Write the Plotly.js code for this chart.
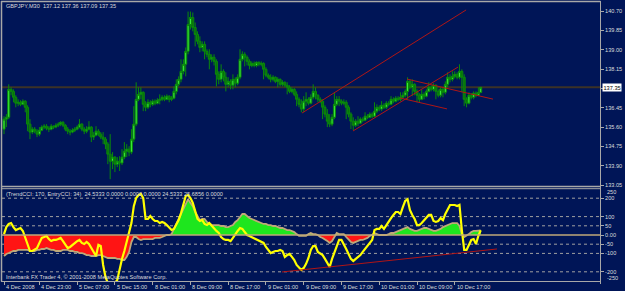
<!DOCTYPE html>
<html><head><meta charset="utf-8">
<script src="https://cdn.plot.ly/plotly-3.0.1.min.js"></script>
<style>html,body{margin:0;padding:0;background:#001557;}#chart{width:625px;height:291px;}</style>
</head><body><div id="chart"></div>
<script>
// ---- GBPJPY M30 candles (bar index = position) ----
const openP = [135.51,135.95,136.03,137.26,137.17,136.91,136.65,136.69,136.60,136.74,
136.47,135.73,135.38,135.51,135.42,135.29,135.46,135.60,135.64,135.55,
135.51,135.64,135.60,135.68,135.73,135.81,135.68,135.51,135.42,135.38,
135.46,135.51,135.60,135.73,135.51,135.42,135.51,135.60,135.16,135.24,
135.42,135.29,135.16,135.07,134.85,134.41,134.10,134.28,133.97,134.10,
134.02,134.28,134.54,134.63,134.50,135.07,135.73,136.82,137.04,137.13,
136.60,136.47,136.69,136.60,136.74,136.65,136.78,136.82,136.91,136.82,
136.96,136.82,136.87,137.17,137.48,137.70,138.05,138.36,138.93,140.11,
140.42,139.98,139.67,139.37,139.10,139.24,138.93,138.80,138.58,138.67,
138.49,137.92,137.70,138.05,137.79,137.48,137.61,137.44,137.70,137.53,
137.79,138.58,138.80,138.67,138.49,138.31,138.40,138.31,138.45,138.36,
138.40,138.14,137.88,137.79,137.70,137.79,137.61,137.70,137.48,137.57,
137.44,137.35,137.17,137.26,137.04,136.82,136.60,136.39,136.74,136.82,
136.65,136.91,137.17,137.00,136.82,136.74,136.47,136.17,135.86,135.73,
136.03,136.60,136.82,136.74,136.65,136.69,136.47,136.17,135.86,135.68,
135.86,135.77,135.95,135.90,136.08,136.03,136.17,136.08,136.30,136.47,
136.39,136.56,136.47,136.65,136.60,136.82,136.74,136.87,136.82,136.91,
137.00,137.17,137.61,137.35,137.48,137.17,137.00,136.82,137.04,136.96,
137.17,137.35,137.26,137.44,137.17,137.00,137.26,137.13,137.48,137.79,
137.70,137.83,137.92,137.79,138.05,137.79,136.82,136.65,137.00,136.91,
137.09,137.00,137.12];
const highP = [136.08,136.17,137.48,137.35,137.26,137.00,136.82,136.78,136.82,136.78,
136.56,135.95,135.60,135.60,135.51,135.60,135.68,135.73,135.73,135.64,
135.73,135.68,135.77,135.81,135.86,135.86,135.73,135.60,135.51,135.55,
135.60,135.68,135.95,135.77,135.60,135.64,135.86,135.64,135.38,135.64,
135.51,135.38,135.38,135.16,134.94,135.29,134.50,134.32,134.28,134.32,
134.63,134.94,134.85,134.76,135.51,136.52,137.57,137.35,137.35,137.17,
136.74,136.82,136.78,136.82,136.82,136.87,137.04,137.00,137.00,137.04,
137.00,136.96,137.39,137.70,137.83,138.58,138.58,139.10,140.68,140.68,
140.64,140.20,139.81,139.59,139.37,139.37,139.02,139.02,138.80,138.80,
138.58,138.05,138.36,138.14,138.01,137.79,137.70,137.92,137.79,137.92,
139.02,138.93,138.89,138.75,138.58,138.49,138.49,138.49,138.49,138.49,
138.45,138.23,137.96,137.92,137.88,137.83,137.79,137.74,137.66,137.61,
137.57,137.44,137.35,137.31,137.17,136.91,136.82,136.96,137.13,136.91,
137.04,137.48,137.35,137.04,136.91,136.82,136.56,136.39,136.17,136.17,
137.13,136.96,136.96,136.82,136.82,136.78,136.56,136.25,136.03,135.95,
136.08,136.03,136.03,136.25,136.17,136.25,136.25,136.69,136.60,136.56,
136.74,136.65,136.74,136.74,136.96,136.91,136.96,136.96,137.13,137.13,
137.26,137.79,137.70,137.70,137.53,137.26,137.09,137.26,137.13,137.26,
137.57,137.44,137.53,137.48,137.26,137.35,137.35,137.61,138.01,137.92,
138.05,138.05,138.01,138.36,138.14,137.92,136.91,137.13,137.09,137.17,
137.17,137.35,137.36];
const lowP = [135.29,135.60,135.95,137.00,136.69,136.47,136.52,136.52,136.56,136.25,
135.42,135.07,135.29,135.33,135.16,135.20,135.42,135.51,135.46,135.38,
135.46,135.51,135.55,135.60,135.64,135.60,135.42,135.29,135.24,135.33,
135.38,135.46,135.55,135.42,135.29,135.33,135.46,134.94,135.03,135.20,
135.20,135.07,134.85,134.63,133.97,133.31,133.75,133.62,133.84,133.67,
133.93,134.19,134.28,134.32,134.41,134.94,135.64,136.74,136.82,136.30,
136.30,136.39,136.47,136.52,136.56,136.60,136.60,136.74,136.74,136.78,
136.69,136.74,136.82,137.04,137.39,137.57,137.92,137.83,138.80,139.89,
139.81,139.15,139.24,138.89,138.93,138.58,138.67,138.14,138.45,138.31,
137.39,137.48,137.57,137.61,137.17,137.35,137.26,137.26,137.35,137.44,
137.70,138.49,138.27,138.31,138.14,138.23,138.23,138.23,138.27,138.27,
137.70,137.79,137.70,137.57,137.61,137.53,137.35,137.39,137.39,137.35,
137.04,137.09,137.09,136.96,136.52,136.47,136.25,136.25,136.52,136.56,
136.60,136.82,136.82,136.69,136.65,135.95,136.03,135.60,135.60,135.64,
135.95,136.52,136.52,136.56,136.56,135.95,136.03,135.51,135.46,135.60,
135.64,135.73,135.81,135.86,135.95,135.99,135.99,136.03,136.21,136.30,
136.30,136.39,136.39,136.52,136.56,136.65,136.69,136.74,136.74,136.82,
136.91,136.82,137.26,136.96,137.00,136.69,136.69,136.78,136.82,136.91,
137.13,137.17,137.17,136.82,136.91,136.91,136.91,137.04,137.35,137.57,
137.61,137.74,137.70,137.70,137.13,136.52,136.47,136.60,136.82,136.82,
136.91,136.96,137.09];
const closeP = [135.95,136.03,137.26,137.17,136.91,136.65,136.69,136.60,136.74,136.47,
135.73,135.38,135.51,135.42,135.29,135.46,135.60,135.64,135.55,135.51,
135.64,135.60,135.68,135.73,135.81,135.68,135.51,135.42,135.38,135.46,
135.51,135.60,135.73,135.51,135.42,135.51,135.60,135.16,135.24,135.42,
135.29,135.16,135.07,134.85,134.41,134.10,134.28,133.97,134.10,134.02,
134.28,134.54,134.63,134.50,135.07,135.73,136.82,137.04,137.13,136.60,
136.47,136.69,136.60,136.74,136.65,136.78,136.82,136.91,136.82,136.96,
136.82,136.87,137.17,137.48,137.70,138.05,138.36,138.93,140.11,140.42,
139.98,139.67,139.37,139.10,139.24,138.93,138.80,138.58,138.67,138.49,
137.92,137.70,138.05,137.79,137.48,137.61,137.44,137.70,137.53,137.79,
138.58,138.80,138.67,138.49,138.31,138.40,138.31,138.45,138.36,138.40,
138.14,137.88,137.79,137.70,137.79,137.61,137.70,137.48,137.57,137.44,
137.35,137.17,137.26,137.04,136.82,136.60,136.39,136.74,136.82,136.65,
136.91,137.17,137.00,136.82,136.74,136.47,136.17,135.86,135.73,136.03,
136.60,136.82,136.74,136.65,136.69,136.47,136.17,135.86,135.68,135.86,
135.77,135.95,135.90,136.08,136.03,136.17,136.08,136.30,136.47,136.39,
136.56,136.47,136.65,136.60,136.82,136.74,136.87,136.82,136.91,137.00,
137.17,137.61,137.35,137.48,137.17,137.00,136.82,137.04,136.96,137.17,
137.35,137.26,137.44,137.17,137.00,137.26,137.13,137.48,137.79,137.70,
137.83,137.92,137.79,138.05,137.79,136.82,136.65,137.00,136.91,137.09,
137.00,137.12,137.35];

// ---- TrendCCI(170) histogram/line and EntryCCI(34) ----
const trendCCI = [-114,-103,-98,-92,-87,-87,-81,-81,-81,-81,
-81,-87,-87,-87,-81,-81,-76,-76,-71,-76,
-81,-81,-87,-87,-87,-81,-81,-81,-87,-87,
-92,-92,-98,-98,-103,-109,-109,-114,-114,-114,
-109,-109,-114,-119,-125,-125,-125,-125,-130,-130,
-136,-136,-119,-92,-38,-11,-11,-22,-27,-22,
-22,-22,-22,-22,-16,-16,-16,-11,-5,0,
0,5,33,60,92,119,147,168,195,174,
157,125,103,81,87,87,71,60,54,54,
54,54,49,49,43,43,49,54,71,81,
98,114,114,103,92,87,81,76,71,65,
60,60,54,54,49,49,43,38,38,33,
27,27,22,16,5,-5,-5,-5,-5,5,
11,5,5,0,-11,-16,-27,-33,-43,-33,
-11,11,5,5,5,-11,-27,-38,-43,-38,
-33,-27,-27,-22,-16,-5,0,11,5,0,
0,0,0,5,11,11,16,22,27,33,
38,43,33,27,22,22,27,33,38,38,
33,27,22,22,27,33,43,49,54,60,
65,65,65,49,5,-11,-5,5,16,22,
22,22,24.53];
const entryCCI = [5,43,60,65,43,27,33,38,22,-16,
-60,-87,-87,-81,-71,-43,-16,-11,-5,-22,
-33,-27,-27,-22,-16,-33,-49,-71,-65,-54,
-43,-33,-27,-43,-49,-38,-49,-71,-92,-114,
-54,-60,-163,-228,-261,-261,-261,-261,-244,-179,
-130,-87,-38,5,65,157,201,217,223,201,
87,87,103,87,76,76,65,71,65,54,
43,27,33,54,81,119,163,212,217,201,
174,130,87,76,81,60,54,65,49,33,
22,11,-11,-22,-27,-27,-33,-16,5,22,
38,33,16,0,-5,-11,-16,-22,-27,-33,
-43,-65,-81,-98,-92,-87,-87,-81,-87,-119,
-109,-103,-119,-136,-163,-179,-190,-179,-157,-125,
-81,-60,-60,-92,-103,-109,-130,-152,-174,-130,
-92,-60,-27,-27,-49,-76,-103,-130,-141,-130,
-119,-109,-92,-76,-60,-43,-27,27,33,33,
49,33,54,76,92,109,125,125,114,152,
185,195,136,109,87,54,54,65,81,92,
109,109,76,71,76,92,81,114,141,163,
163,163,157,163,27,-81,-81,-49,-27,-22,
-49,-5,25.69];

// ---- axis text ----
const timeLabels = ["4 Dec 2008","4 Dec 23:00","5 Dec 07:00","5 Dec 15:00","8 Dec 01:00","8 Dec 09:00","8 Dec 17:00","9 Dec 01:00","9 Dec 09:00","9 Dec 17:00","10 Dec 01:00","10 Dec 09:00","10 Dec 17:00"];
const timeLabelBars = [0,15,31,47,63,79,95,111,127,143,159,175,191];
const priceTicks = [140.70,139.85,139.00,138.15,137.30,136.45,135.60,134.75,133.90,133.05];
const priceTickText = ["140.70","139.85","139.00","138.15","","136.45","135.60","134.75","133.90","133.05"];
const cciTicks = [200,100,50,0,-50,-100,-200];
const cciTickText = ["200","100","50","0.00","-50","-100","-200"];
const cciEdgeLabels = ["250","-250"];
const cciLevels = [200,100,50,-50,-100,-200];
const bidPrice = 137.35;
const headerText = "GBPJPY,M30\u00a0\u00a0137.12 137.36 137.09 137.35";
const cciHeader = "(TrendCCI: 170, EntryCCI: 34)\u00a0\u00a024.5333 0.0000 0.0000 0.0000 24.5333 25.6856 0.0000";
const copyright = "Interbank FX Trader 4, \u00a9 2001-2008 MetaQuotes Software Corp.";
// trend lines drawn on chart: [bar0, price0, bar1, price1]
const priceTrendLines = [[126.3,136.22,195.8,140.75],[147.9,135.43,192.4,138.24],[170.8,137.71,207.2,136.83],[167.8,136.88,187.7,136.40]];
const cciTrendLine = [117.8,-201,208.9,-76];

// ---- build ----
const bars = closeP.map((_, i) => i);
const NAVY = '#001557', GRAY = '#a8a8a8', TXT = '#dcdcdc';
const FONT = 'Liberation Sans, Arial, sans-serif';
const FS = 5.6;
const PX = x => (x - 2) / 598;
const PY = y => (281 - y) / 279;
const barPx = 2.36;
const r0 = (2 - 4) / barPx, r1 = r0 + 598 / barPx;

const traces = [
  {type:'candlestick', x:bars, open:openP, high:highP, low:lowP, close:closeP,
   xaxis:'x', yaxis:'y', whiskerwidth:0, hoverinfo:'skip',
   increasing:{line:{color:'#0a8a0a', width:1}, fillcolor:'#3cf03c'},
   decreasing:{line:{color:'#0a8a0a', width:1}, fillcolor:'#0a700a'}},
  {type:'scatter', mode:'lines', x:bars, y:trendCCI.map(v => v > 0 ? v : 0), xaxis:'x2', yaxis:'y2',
   fill:'tozeroy', fillcolor:'#1ee61e', line:{width:0}, hoverinfo:'skip'},
  {type:'scatter', mode:'lines', x:bars, y:trendCCI.map(v => v < 0 ? v : 0), xaxis:'x2', yaxis:'y2',
   fill:'tozeroy', fillcolor:'#ff1414', line:{width:0}, hoverinfo:'skip'},
  {type:'scatter', mode:'lines', x:bars, y:trendCCI, xaxis:'x2', yaxis:'y2',
   line:{color:'#bfa978', width:1.8}, hoverinfo:'skip'},
  {type:'scatter', mode:'lines', x:bars, y:entryCCI, xaxis:'x2', yaxis:'y2',
   line:{color:'#ffff00', width:2.2}, hoverinfo:'skip'}
];

const shapes = [];
shapes.push({type:'line', xref:'paper', yref:'y', x0:0, x1:1, y0:bidPrice, y1:bidPrice, line:{color:'#3b3226', width:2}, layer:'below'});
cciLevels.forEach(v => shapes.push({type:'line', xref:'paper', yref:'y2', x0:0, x1:1, y0:v, y1:v, line:{color:'#a0a0a0', width:1, dash:'dot'}, layer:'below'}));
shapes.push({type:'line', xref:'paper', yref:'y2', x0:0, x1:1, y0:0, y1:0, line:{color:'#bfa978', width:1.5}, layer:'above'});
priceTrendLines.forEach(t => shapes.push({type:'line', xref:'x', yref:'y', x0:t[0], y0:t[1], x1:t[2], y1:t[3], line:{color:'#b01515', width:1}}));
shapes.push({type:'line', xref:'x2', yref:'y2', x0:cciTrendLine[0], y0:cciTrendLine[1], x1:cciTrendLine[2], y1:cciTrendLine[3], line:{color:'#b01515', width:1}});
const frame = (x0,y0,x1,y1,w) => shapes.push({type:'line', xref:'paper', yref:'paper', x0:PX(x0), y0:PY(y0), x1:PX(x1), y1:PY(y1), line:{color:GRAY, width:w||1}});
frame(1,1.5,600.5,1.5,1.5);
frame(1.5,1,1.5,281.5,1.5);
frame(600.5,1,600.5,284,1);
frame(1,186.5,600.5,186.5,1.5);
frame(1,188.7,600.5,188.7,1);
frame(1,281.5,600.5,281.5,1);

const ann = [];
const txt = (text, x, y, xref, yref, extra) => ann.push(Object.assign({text, x, y, xref, yref, xanchor:'left', yanchor:'middle', showarrow:false, font:{family:FONT, size:FS, color:TXT}}, extra||{}));
txt(headerText, PX(4), PY(6), 'paper', 'paper');
txt(cciHeader, PX(4), PY(193.5), 'paper', 'paper');
txt(copyright, PX(4), PY(277), 'paper', 'paper');
timeLabels.forEach((t, k) => txt(t, timeLabelBars[k], PY(286.5), 'x2', 'paper'));
txt(cciEdgeLabels[0], PX(604.5), PY(192), 'paper', 'paper');
txt(cciEdgeLabels[1], PX(604.5), PY(277.5), 'paper', 'paper');
txt(bidPrice.toFixed(2), PX(601.5), bidPrice, 'paper', 'y', {bgcolor:'#ffffff', borderpad:0.5, font:{family:FONT, size:FS, color:'#000000'}});

const tickFont = {family:FONT, size:FS, color:TXT};
const layout = {
  width:625, height:291, margin:{l:2, r:25, t:2, b:10, pad:0},
  paper_bgcolor:NAVY, plot_bgcolor:NAVY, showlegend:false, hovermode:false, dragmode:false,
  boxgap:0.15, boxgroupgap:0,
  xaxis:{domain:[0,1], anchor:'y', range:[r0,r1], showticklabels:false, ticks:'', showgrid:false, zeroline:false, showline:false, rangeslider:{visible:false}, fixedrange:true},
  xaxis2:{domain:[0,1], anchor:'y2', range:[r0,r1], tickmode:'array', tickvals:timeLabelBars, ticks:'outside', ticklen:3, tickcolor:GRAY, showticklabels:false, showgrid:false, zeroline:false, showline:false, fixedrange:true},
  yaxis:{domain:[PY(186),1], anchor:'x', side:'right', range:[133.01,141.10], tickmode:'array', tickvals:priceTicks, ticktext:priceTickText, ticks:'outside', ticklen:3, tickcolor:GRAY, tickfont:tickFont, showgrid:false, zeroline:false, showline:false, fixedrange:true},
  yaxis2:{domain:[0,PY(189)], anchor:'x2', side:'right', range:[-250,250], tickmode:'array', tickvals:cciTicks, ticktext:cciTickText, ticks:'outside', ticklen:3, tickcolor:GRAY, tickfont:tickFont, showgrid:false, zeroline:false, showline:false, fixedrange:true},
  shapes, annotations:ann
};
Plotly.newPlot('chart', traces, layout, {staticPlot:true, displayModeBar:false});
</script></body></html>
